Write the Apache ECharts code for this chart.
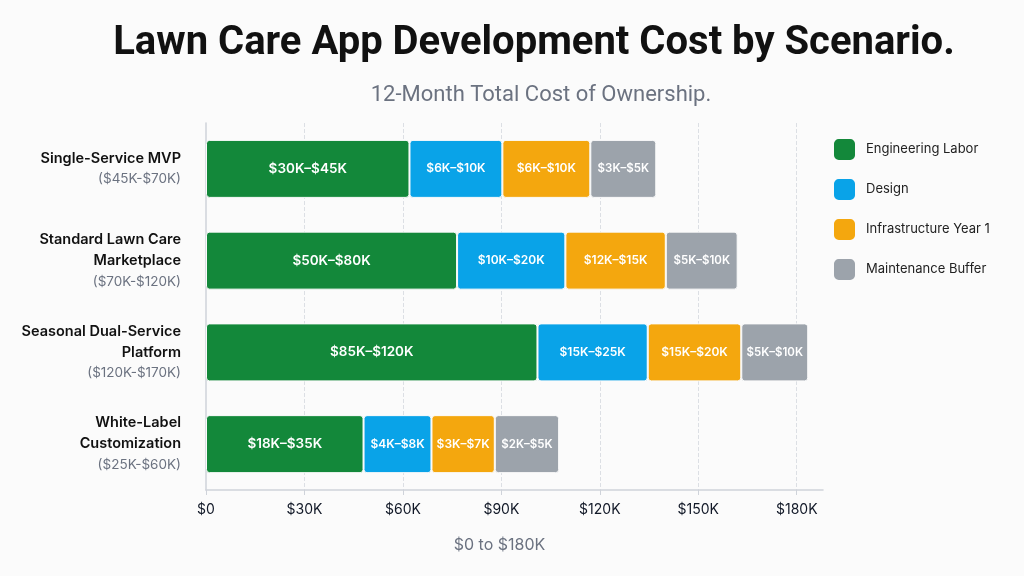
<!DOCTYPE html>
<html>
<head>
<meta charset="utf-8">
<script src="https://cdn.jsdelivr.net/npm/echarts@6/dist/echarts.min.js"></script>
<style>
  html, body { margin: 0; padding: 0; background: #fbfbfb; }
  #chart { width: 1024px; height: 576px; }
</style>
</head>
<body>
<div id="chart"></div>
<script>
// scenarios (top to bottom)
const scenarios = ['Single-Service MVP', 'Standard Lawn Care\nMarketplace', 'Seasonal Dual-Service\nPlatform', 'White-Label\nCustomization']
const scenarioRanges = ['($45K-$70K)', '($70K-$120K)', '($120K-$170K)', '($25K-$60K)']

// bar lengths in $K
const engineering = [62, 76.5, 101, 48]
const design = [28.3, 33, 33.6, 20.7]
const infra = [26.8, 30.6, 28.5, 19.3]
const maintenance = [20.1, 21.9, 20.4, 19.6]

// texts printed inside the segments
const engineeringLabels = ['$30K–$45K', '$50K–$80K', '$85K–$120K', '$18K–$35K']
const designLabels = ['$6K–$10K', '$10K–$20K', '$15K–$25K', '$4K–$8K']
const infraLabels = ['$6K–$10K', '$12K–$15K', '$15K–$20K', '$3K–$7K']
const maintenanceLabels = ['$3K–$5K', '$5K–$10K', '$5K–$10K', '$2K–$5K']

const tickValues = [0, 30, 60, 90, 120, 150, 180]

const seriesDefs = [
  { name: 'Engineering Labor', data: engineering, labels: engineeringLabels, color: '#13883a', size: 13.5 },
  { name: 'Design', data: design, labels: designLabels, color: '#09a3e8', size: 12 },
  { name: 'Infrastructure Year 1', data: infra, labels: infraLabels, color: '#f4a70e', size: 12 },
  { name: 'Maintenance Buffer', data: maintenance, labels: maintenanceLabels, color: '#9ca3ab', size: 11.5 }
]

const chart = echarts.init(document.getElementById('chart'))

const option = {
  backgroundColor: '#fbfbfb',
  textStyle: { fontFamily: 'Inter, "Noto Sans", sans-serif' },
  title: [
    {
      text: 'Lawn Care App Development Cost by Scenario.',
      left: 529,
      top: 19,
      textAlign: 'center',
      textStyle: { fontFamily: 'Roboto, sans-serif', fontSize: 40, fontWeight: 'bold', color: '#111111' }
    },
    {
      text: '12-Month Total Cost of Ownership.',
      left: 536,
      top: 79,
      textAlign: 'center',
      textStyle: { fontFamily: 'Roboto, sans-serif', fontSize: 22, fontWeight: 'normal', color: '#6b7280' }
    }
  ],
  legend: {
    orient: 'vertical',
    left: 827,
    top: 132,
    itemWidth: 23,
    itemHeight: 23,
    itemGap: 15,
    icon: 'roundRect',
    textStyle: { fontSize: 13, color: '#222222', padding: [0, 0, 0, 5] },
    data: seriesDefs.map(s => s.name)
  },
  grid: {
    left: 206,
    right: 201,
    top: 123,
    bottom: 86
  },
  xAxis: {
    type: 'value',
    min: 0,
    max: 188,
    interval: 30,
    name: '$0 to $180K',
    nameLocation: 'middle',
    nameGap: 47,
    nameTextStyle: { fontSize: 16, color: '#6b7280', padding: [0, 30, 0, 0] },
    axisLine: { show: true, lineStyle: { color: '#cfd3da', width: 1.5 } },
    axisTick: { show: true, length: 5, customValues: tickValues, lineStyle: { color: '#cfd3da' } },
    axisLabel: {
      customValues: tickValues,
      margin: 13,
      fontSize: 14,
      color: '#111827',
      formatter: v => v === 0 ? '$0' : '$' + v + 'K'
    },
    splitLine: {
      show: true,
      lineStyle: {
        type: 'dashed',
        color: ['transparent', '#dcdfe4', '#dcdfe4', '#dcdfe4', '#dcdfe4', '#dcdfe4', '#dcdfe4', 'transparent']
      }
    }
  },
  yAxis: {
    type: 'category',
    inverse: true,
    data: scenarios,
    axisLine: { show: true, lineStyle: { color: '#cfd3da', width: 1.5 } },
    axisTick: { show: false },
    axisLabel: {
      margin: 25,
      align: 'right',
      formatter: (value, idx) => {
        const lines = value.split('\n').map(l => '{n|' + l + '}')
        return lines.join('\n') + '\n{r|' + scenarioRanges[idx] + '}'
      },
      rich: {
        n: { fontSize: 14.5, fontWeight: 600, color: '#111111', lineHeight: 21, align: 'right' },
        r: { fontSize: 13.5, color: '#6b7280', lineHeight: 21, align: 'right' }
      }
    }
  },
  series: seriesDefs.map(s => ({
    name: s.name,
    type: 'bar',
    stack: 'cost',
    barWidth: 58,
    data: s.data,
    itemStyle: {
      color: s.color,
      borderColor: '#fbfbfb',
      borderWidth: 1,
      borderRadius: 3
    },
    label: {
      show: true,
      position: 'inside',
      color: '#ffffff',
      fontSize: s.size,
      fontWeight: 600,
      formatter: p => s.labels[p.dataIndex]
    }
  }))
}

chart.setOption(option)
</script>
</body>
</html>
